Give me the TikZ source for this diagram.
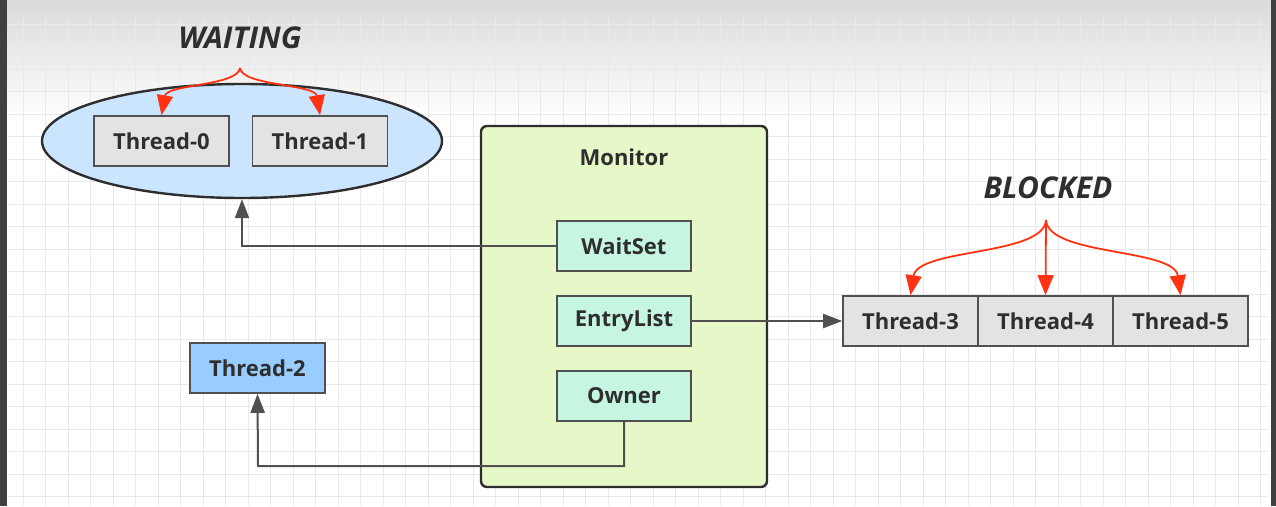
\documentclass[tikz,border=0pt]{standalone}
\usepackage{fontspec}
\setmainfont{Open Sans}
\usetikzlibrary{arrows.meta,shapes.geometric}
\definecolor{gridc}{HTML}{E9E9E9}
\definecolor{ellc}{HTML}{CCE5FF}
\definecolor{thrc}{HTML}{E3E3E3}
\definecolor{monc}{HTML}{E6F7C8}
\definecolor{inc}{HTML}{C6F5E2}
\definecolor{t2c}{HTML}{99CCFF}
\definecolor{redc}{HTML}{FF3311}
\definecolor{txtc}{HTML}{2E2E2E}
\definecolor{edgec}{HTML}{505050}
\tikzset{
  lbl/.style={font=\fontsize{22}{24}\selectfont\bfseries, text=txtc},
  tbox/.style={lbl, draw=edgec, line width=1.6pt, minimum width=135pt, minimum height=50pt, inner sep=0pt, fill=thrc},
  ibox/.style={tbox, fill=inc, minimum width=134pt},
  title/.style={font=\fontsize{30}{32}\selectfont\bfseries\itshape, text=txtc},
  conn/.style={draw=edgec, line width=2pt, -{Triangle[length=19pt,width=14pt]}},
  redarr/.style={draw=redc, line width=1.8pt, -{Triangle[length=20pt,width=16pt]}}
}
\begin{document}
\begin{tikzpicture}[x=1pt,y=-1pt]
\useasboundingbox (0,0) rectangle (1276,506);
\begin{scope}
\clip (0,0) rectangle (1276,506);
\fill[white] (0,0) rectangle (1276,506);
\shade[top color=black!20, bottom color=white] (0,-45) rectangle (1276,120);
\foreach \i in {0,...,55} \draw[gridc, line width=1pt] (23.3+22.5*\i,18) -- (23.3+22.5*\i,506);
\foreach \j in {0,...,21} \draw[gridc, line width=1pt] (8,24.2+22.5*\j) -- (1268,24.2+22.5*\j);
\fill[black!75] (0,0) rectangle (7,506);
\fill[black!75] (1271,0) rectangle (1276,506);
\end{scope}

% WAITING group
\node[title] (waiting) at (240,38) {WAITING};
\node[ellipse, draw=txtc, line width=2.4pt, fill=ellc, minimum width=400pt, minimum height=114pt, inner sep=0pt] (ell) at (242,141) {};
\node[tbox] (t0) at (161.5,141) {Thread-0};
\node[tbox] (t1) at (320,141) {Thread-1};
\coordinate (ws) at (240,68);
\draw[redarr] (ws) .. controls (238,86) and (167,84) .. (t0.north);
\draw[redarr] (ws) .. controls (242,86) and (315,84) .. (t1.north);

% Monitor
\node[draw=txtc, line width=2.4pt, fill=monc, rounded corners=6pt, minimum width=286pt, minimum height=361pt, inner sep=0pt] (mon) at (624,306.5) {};
\node[lbl] (montitle) at (624,157) {Monitor};
\node[ibox] (waitset) at (624,246) {WaitSet};
\node[ibox] (entry) at (624,321) {EntryList};
\node[ibox] (owner) at (624,396) {Owner};

% Thread-2
\node[tbox, fill=t2c] (t2) at (257.5,368) {Thread-2};

% BLOCKED group
\node[title] (blocked) at (1048,188) {BLOCKED};
\node[tbox] (t3) at (910.5,321) {Thread-3};
\node[tbox] (t4) at (1045.5,321) {Thread-4};
\node[tbox] (t5) at (1180.5,321) {Thread-5};
\coordinate (bs) at (1046,220);
\draw[redarr] (bs) .. controls (1044,256) and (918,248) .. (t3.north);
\draw[redarr] (bs) -- (t4.north);
\draw[redarr] (bs) .. controls (1048,256) and (1174,248) .. (t5.north);

% connectors
\draw[conn] (waitset.west) -| (ell.south);
\draw[conn] (entry.east) -- (t3.west);
\draw[conn] (owner.south) |- (258,466) -- (t2.south);
\end{tikzpicture}
\end{document}
